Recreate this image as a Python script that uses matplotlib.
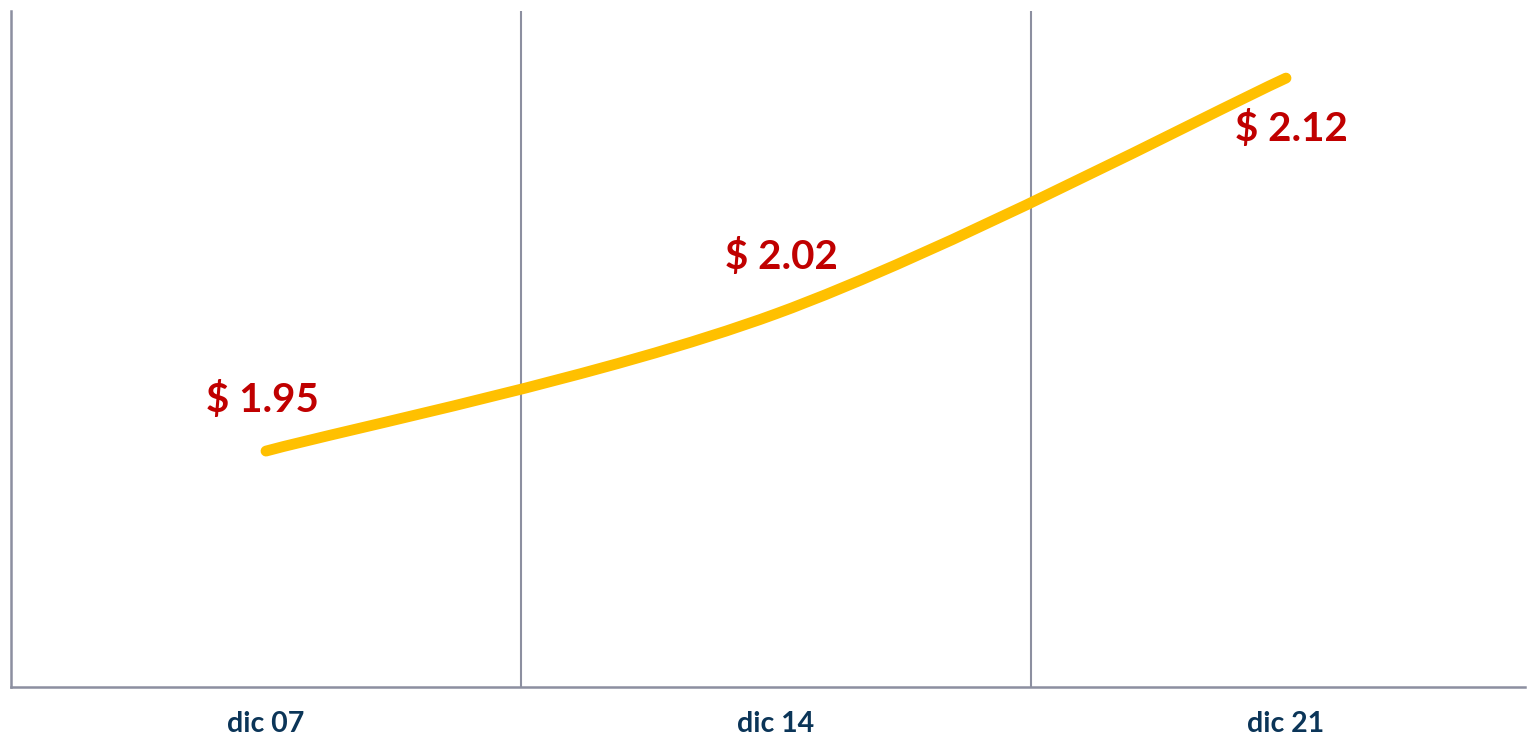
import matplotlib
matplotlib.use("Agg")
import matplotlib.pyplot as plt
from matplotlib.path import Path
from matplotlib.patches import PathPatch
import numpy as np

categories = ["dic 07", "dic 14", "dic 21"]
values = [1.953, 2.0152, 2.122]
labels = ["$ 1.95", "$ 2.02", "$ 2.12"]

fig = plt.figure(figsize=(15.27, 7.35), dpi=100)
ax = fig.add_axes([11/1527, 1 - 687/735, (1525-11)/1527, (687-11)/735])

x = np.arange(len(values), dtype=float)
y = np.array(values, dtype=float)

# Smoothed (Catmull-Rom style) bezier through data points
verts = [(x[0], y[0])]
codes = [Path.MOVETO]
n = len(x)
for i in range(n - 1):
    p0 = np.array([x[max(i-1, 0)], y[max(i-1, 0)]])
    p1 = np.array([x[i], y[i]])
    p2 = np.array([x[i+1], y[i+1]])
    p3 = np.array([x[min(i+2, n-1)], y[min(i+2, n-1)]])
    c1 = p1 + (p2 - p0) / 6.0
    c2 = p2 - (p3 - p1) / 6.0
    verts += [tuple(c1), tuple(c2), tuple(p2)]
    codes += [Path.CURVE4] * 3
patch = PathPatch(Path(verts, codes), facecolor="none", edgecolor="#FFC000",
                  lw=7.8, capstyle="round", joinstyle="round", zorder=3)
ax.add_patch(patch)

ax.set_xlim(-0.5, -0.5 + (1525-11)/510)
ax.set_ylim(1.8461, 2.1524)

for xb in [0.5, 1.5]:
    ax.axvline(xb, color="#8C8FA0", lw=1.5, zorder=1)

for s in ["top", "right"]:
    ax.spines[s].set_visible(False)
for s in ["left", "bottom"]:
    ax.spines[s].set_color("#8C8FA0")
    ax.spines[s].set_linewidth(1.8)

ax.set_yticks([])
ax.set_xticks(x)
ax.set_xticklabels(categories, fontsize=20.5, fontweight="bold", color="#0B3558", family="Lato")
ax.tick_params(axis="x", length=0, pad=17)

offsets = [(-4, 51), (5, 57), (5, -51)]
for xi, yi, lab, (dx, dy) in zip(x, y, labels, offsets):
    ax.annotate(lab, (xi, yi), xytext=(dx, dy), textcoords="offset pixels",
                ha="center", va="center", fontsize=29, fontweight="bold",
                color="#C00000", family="Lato")

fig.savefig("out.png", dpi=100)
